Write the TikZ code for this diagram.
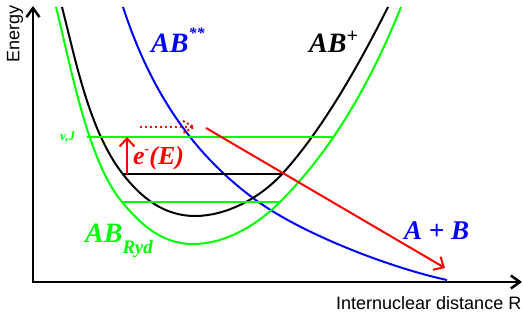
\documentclass[tikz,border=0pt]{standalone}
\usepackage{fontspec}
\setmainfont{Liberation Serif}
\newfontfamily\axisfont{Liberation Sans}
\usetikzlibrary{arrows.meta}
\definecolor{cgreen}{RGB}{0,255,0}
\definecolor{cblue}{RGB}{0,0,255}
\definecolor{cred}{RGB}{255,0,0}
\begin{document}
\begin{tikzpicture}[x=1pt,y=-1pt,
  curve/.style={line width=2pt},
  level/.style={line width=2pt},
  axisline/.style={line width=2.5pt, line join=miter,
    {Straight Barb[length=9pt,width=13pt]}-{Straight Barb[length=9pt,width=13pt]}},
  redarrow/.style={cred, line width=2pt, -{Straight Barb[length=8pt,width=15pt]}},
  lbl/.style={inner sep=0pt, anchor=base west, font=\bfseries\itshape},
  axlbl/.style={inner sep=0pt, font=\axisfont\fontsize{18}{18}\selectfont}
]
\useasboundingbox (0,0) rectangle (523,320);

% axes
\coordinate (O) at (33,282);
\coordinate (ytop) at (33,6);
\coordinate (xend) at (522,282);
\draw[axisline] (ytop) -- (O) -- (xend);
\node[axlbl, rotate=90] (energy) at (15,34) {Energy};
\node[axlbl, anchor=base west] (rlabel) at (336,310) {Internuclear distance R};

% AB** repulsive curve
\draw[curve, cblue] (123,7) .. controls (153,99) and (198,157) .. (253,198)
  .. controls (298,232) and (387,267) .. (447,280);

% AB_Ryd curve
\draw[curve, cgreen] (56,7) .. controls (70,62) and (87,160) .. (122,202)
  .. controls (142,226) and (163,244) .. (193,244)
  .. controls (224,244) and (255,227) .. (280,202)
  .. controls (320,162) and (362.6,103) .. (401,7);

% AB+ curve
\draw[curve, black] (62,7) .. controls (75.6,60) and (89,130) .. (122,173)
  .. controls (142,199) and (165,216) .. (195,216)
  .. controls (225,216) and (259,199.4) .. (283,173)
  .. controls (317.1,135.5) and (352.6,77.8) .. (388,7);

% levels
\coordinate (g1l) at (87,137);  \coordinate (g1r) at (333,137);
\coordinate (b1l) at (122,174); \coordinate (b1r) at (283,174);
\coordinate (g2l) at (122,202); \coordinate (g2r) at (280,202);
\draw[level, cgreen] (g1l) -- (g1r);
\draw[level, black] (b1l) -- (b1r);
\draw[level, cgreen] (g2l) -- (g2r);

% red arrows
\coordinate (eup0) at (127,174);
\coordinate (eup1) at (127,137);
\draw[redarrow] (eup0) -- (eup1);
\coordinate (d0) at (206,128);
\coordinate (d1) at (445,268);
\draw[redarrow] (d0) -- (d1);
\coordinate (dt0) at (140,127);
\coordinate (dt1) at (194,127);
\coordinate (dh1) at (183,121);
\coordinate (dh2) at (183,133);
\draw[cred, line width=2pt, dash pattern=on 2pt off 3pt] (dt0) -- (dt1);
\draw[cred, line width=2pt, dash pattern=on 2pt off 2.5pt] (dh1) -- (dt1) -- (dh2);

% labels
\node[lbl, text=cblue] (abss) at (151,53)
  {\fontsize{28}{28}\selectfont AB\raisebox{14pt}{\fontsize{16}{16}\selectfont **}};
\node[lbl, text=black] (abplus) at (309,53)
  {\fontsize{28}{28}\selectfont AB\raisebox{10.5pt}{\fontsize{20}{20}\selectfont +}};
\node[lbl, text=cgreen] (abryd) at (85,243)
  {\fontsize{28}{28}\selectfont AB\raisebox{-11pt}{\fontsize{19}{19}\selectfont Ryd}};
\node[lbl, text=cblue] (apb) at (404,240)
  {\fontsize{27}{27}\selectfont A + B};
\node[lbl, text=cred] (eE) at (133,165)
  {\fontsize{26}{26}\selectfont e\raisebox{11pt}{\fontsize{14}{14}\selectfont -}(E)};
\node[lbl, text=cgreen] (vj) at (60,141)
  {\fontsize{13}{13}\selectfont v,J};
\end{tikzpicture}
\end{document}
